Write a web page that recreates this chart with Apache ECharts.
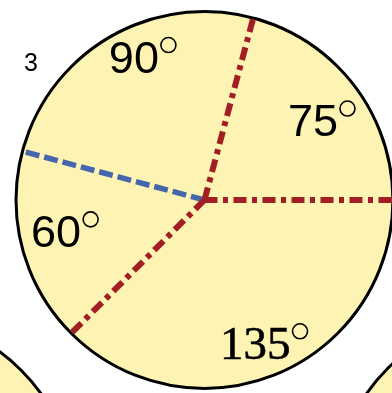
<!DOCTYPE html>
<html>
<head>
<meta charset="utf-8">
<script src="https://cdn.jsdelivr.net/npm/echarts@6/dist/echarts.min.js"></script>
<style>
  html, body { margin: 0; padding: 0; background: #fff; }
  #chart { width: 392px; height: 393px; }
</style>
</head>
<body>
<div id="chart"></div>
<script>
// circles: [cx, cy, r] in units of the main radius
const circles = [[0, 0, 1], [-1.68, -1.61, 1], [1.68, -1.6, 1]];

// rays out of the centre, angle in degrees (0 = right, counter-clockwise)
const redRayAngles = [75, 0, 225];
const blueRayAngles = [165];
const rayLength = 1;

// angle labels between the rays
const degreeLabels = ['90', '75', '60', '135'];
const labelAngles = [114, 33, 194, 292];
const labelRadii = [0.81, 0.74, 0.765, 0.84];
const labelSerif = [false, false, false, true];

const panelNumber = '3';

// visible window (main centre at 0,0)
const xMin = -1.085, xMax = 0.995;
const yMin = -1.024, yMax = 1.061;

const polar = (a, r) => [r * Math.cos(a * Math.PI / 180), r * Math.sin(a * Math.PI / 180)];

const chart = echarts.init(document.getElementById('chart'));

const raySeries = (angles, color, width, dash) => angles.map(a => ({
  type: 'line',
  data: [[0, 0], polar(a, rayLength)],
  symbol: 'none',
  silent: true,
  animation: false,
  lineStyle: { color: color, width: width, type: dash, cap: 'butt' },
  z: 3
}));

const option = {
  animation: false,
  title: {
    text: panelNumber,
    left: 19,
    top: 47,
    textStyle: { fontFamily: 'Liberation Sans', fontSize: 25, fontWeight: 'normal', color: '#000' }
  },
  grid: { left: 0, right: 0, top: 0, bottom: 0 },
  xAxis: { type: 'value', min: xMin, max: xMax, show: false },
  yAxis: { type: 'value', min: yMin, max: yMax, show: false },
  series: [
    {
      type: 'custom',
      clip: true,
      silent: true,
      data: circles,
      renderItem: (params, api) => {
        const c = api.coord([api.value(0), api.value(1)]);
        const r = api.size([api.value(2), 0])[0];
        return {
          type: 'circle',
          shape: { cx: c[0], cy: c[1], r: r },
          style: { fill: '#fdf4b4', stroke: '#000', lineWidth: 3 }
        };
      },
      z: 1
    },
    ...raySeries(blueRayAngles, '#4565ad', 5.5, [14, 5]),
    ...raySeries(redRayAngles, '#a11e23', 6, [13, 5.5, 5, 5.5]),
    {
      type: 'scatter',
      symbolSize: 0,
      silent: true,
      itemStyle: { opacity: 1 },
      data: degreeLabels.map((t, i) => polar(labelAngles[i], labelRadii[i]).concat(t, labelSerif[i] ? 1 : 0)),
      label: {
        show: true,
        position: 'inside',
        color: '#000',
        textBorderWidth: 0,
        formatter: p => (p.value[3] ? '{s|' : '{n|') + p.value[2] + '}{g|}{d|}',
        rich: {
          n: { fontFamily: 'Liberation Sans', fontSize: 45, color: '#000', lineHeight: 46 },
          s: { fontFamily: 'Liberation Serif', fontSize: 47, color: '#000', lineHeight: 46, textBorderColor: '#000', textBorderWidth: 0.6 },
          g: { width: 2 },
          d: { width: 15, height: 15, borderColor: '#000', borderWidth: 1.6, borderRadius: 9, verticalAlign: 'top' }
        }
      },
      z: 4
    }
  ]
};

chart.setOption(option);
</script>
</body>
</html>
